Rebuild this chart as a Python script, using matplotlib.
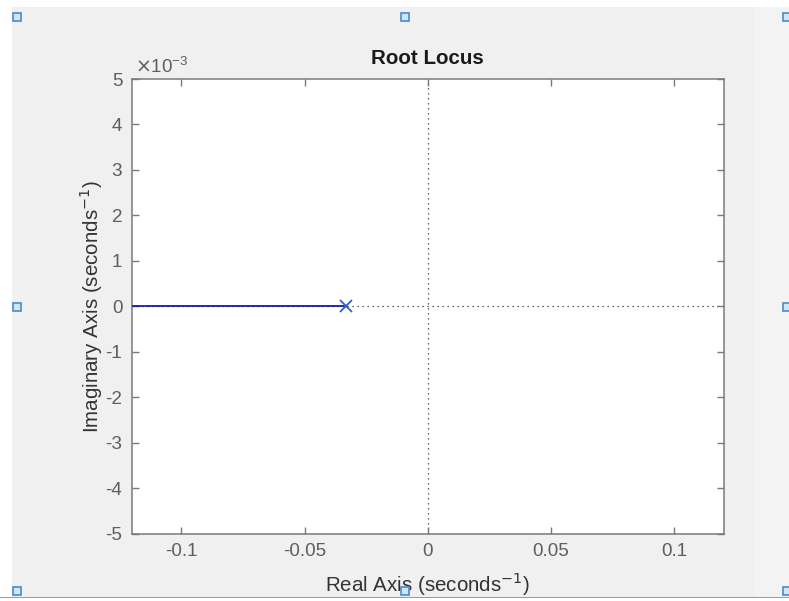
import matplotlib
matplotlib.use("Agg")
import matplotlib.pyplot as plt
from matplotlib.patches import Rectangle

plt.rcParams['font.family'] = ['Liberation Sans', 'DejaVu Sans']

# Open-loop pole and the real-axis locus branch (drawn in two pieces)
pole_real = [-1 / 30]
pole_imag = [0.0]
branch_a_real = [-0.12, -0.1157]
branch_b_real = [-0.1148, -1 / 30]
branch_imag = [0.0, 0.0]

x_ticks = [-0.1, -0.05, 0, 0.05, 0.1]
x_tick_labels = ['-0.1', '-0.05', '0', '0.05', '0.1']
y_ticks = [-5e-3, -4e-3, -3e-3, -2e-3, -1e-3, 0, 1e-3, 2e-3, 3e-3, 4e-3, 5e-3]
y_tick_labels = ['-5', '-4', '-3', '-2', '-1', '0', '1', '2', '3', '4', '5']

W, H = 789, 601
fig = plt.figure(figsize=(W / 100, H / 100), dpi=100)
fig.patch.set_facecolor('#f0f0f0')

# window chrome: white strips at top/left, lighter strip at right, border line at bottom
fig.add_artist(Rectangle((0, 1 - 7 / H), 1, 7 / H, transform=fig.transFigure,
                         facecolor='white', edgecolor='none', zorder=0))
fig.add_artist(Rectangle((0, 0), 12 / W, 1, transform=fig.transFigure,
                         facecolor='white', edgecolor='none', zorder=0))
fig.add_artist(Rectangle((755 / W, 0), 1, 1 - 7 / H, transform=fig.transFigure,
                         facecolor='#f3f3f3', edgecolor='none', zorder=0))
fig.add_artist(Rectangle((0, 0), 1, 3 / H, transform=fig.transFigure,
                         facecolor='#ffffff', edgecolor='none', zorder=0))
fig.add_artist(Rectangle((0, 3 / H), 1, 1.5 / H, transform=fig.transFigure,
                         facecolor='#9a9a9a', edgecolor='none', zorder=0))

# selection handles
handles = [(17, 17), (405, 17), (787, 17), (17, 307), (787, 307),
           (17, 591), (405, 591), (787, 591)]
s = 8
for hx, hy in handles:
    fig.add_artist(Rectangle(((hx - s / 2) / W, 1 - (hy + s / 2) / H), s / W, s / H,
                             transform=fig.transFigure, facecolor='#cfe5f8',
                             edgecolor='#4a8cc4', linewidth=1.2, zorder=5))

ax = fig.add_axes([132 / W, 1 - 533.5 / H, (723.5 - 132) / W, (533.5 - 79) / H])
ax.set_facecolor('white')
ax.set_xlim(-0.12, 0.12)
ax.set_ylim(-5e-3, 5e-3)

# dotted reference axes
ax.axhline(0, color='#333333', linestyle=(0, (1, 3)), linewidth=0.9, zorder=1)
ax.axvline(0, color='#333333', linestyle=(0, (1, 3)), linewidth=0.9, zorder=1)

ax.plot(branch_a_real, branch_imag, color='#1a1aa6', linewidth=1.3, zorder=3)
ax.plot(branch_b_real, branch_imag, color='#1a1aa6', linewidth=1.3, zorder=3)
ax.plot(pole_real, pole_imag, linestyle='none', marker='x', markersize=8,
        markeredgewidth=1.3, color='#2f62c8', zorder=4)

ax.set_xticks(x_ticks)
ax.set_xticklabels(x_tick_labels)
ax.set_yticks(y_ticks)
ax.set_yticklabels(y_tick_labels)

text_gray = '#5e5e5e'
ax.tick_params(direction='in', length=5, width=1, colors='#7a7a7a',
               top=True, right=True, labelsize=13.6, labelcolor=text_gray, pad=7)
for sp in ax.spines.values():
    sp.set_color('#7a7a7a')
    sp.set_linewidth(1.1)

ax.set_title('Root Locus', fontsize=14.8, fontweight='bold', color='#1a1a1a', pad=11)
ax.set_xlabel('Real Axis (seconds$^{-1}$)', fontsize=14.8, color='#333333', labelpad=7)
ax.set_ylabel('Imaginary Axis (seconds$^{-1}$)', fontsize=14.8, color='#333333', labelpad=0)

ax.text(0.005, 1.005, r'$\times\mathregular{10^{-3}}$', transform=ax.transAxes,
        fontsize=13.6, color=text_gray, ha='left', va='bottom')

fig.savefig('out.png', dpi=100, facecolor=fig.get_facecolor())
